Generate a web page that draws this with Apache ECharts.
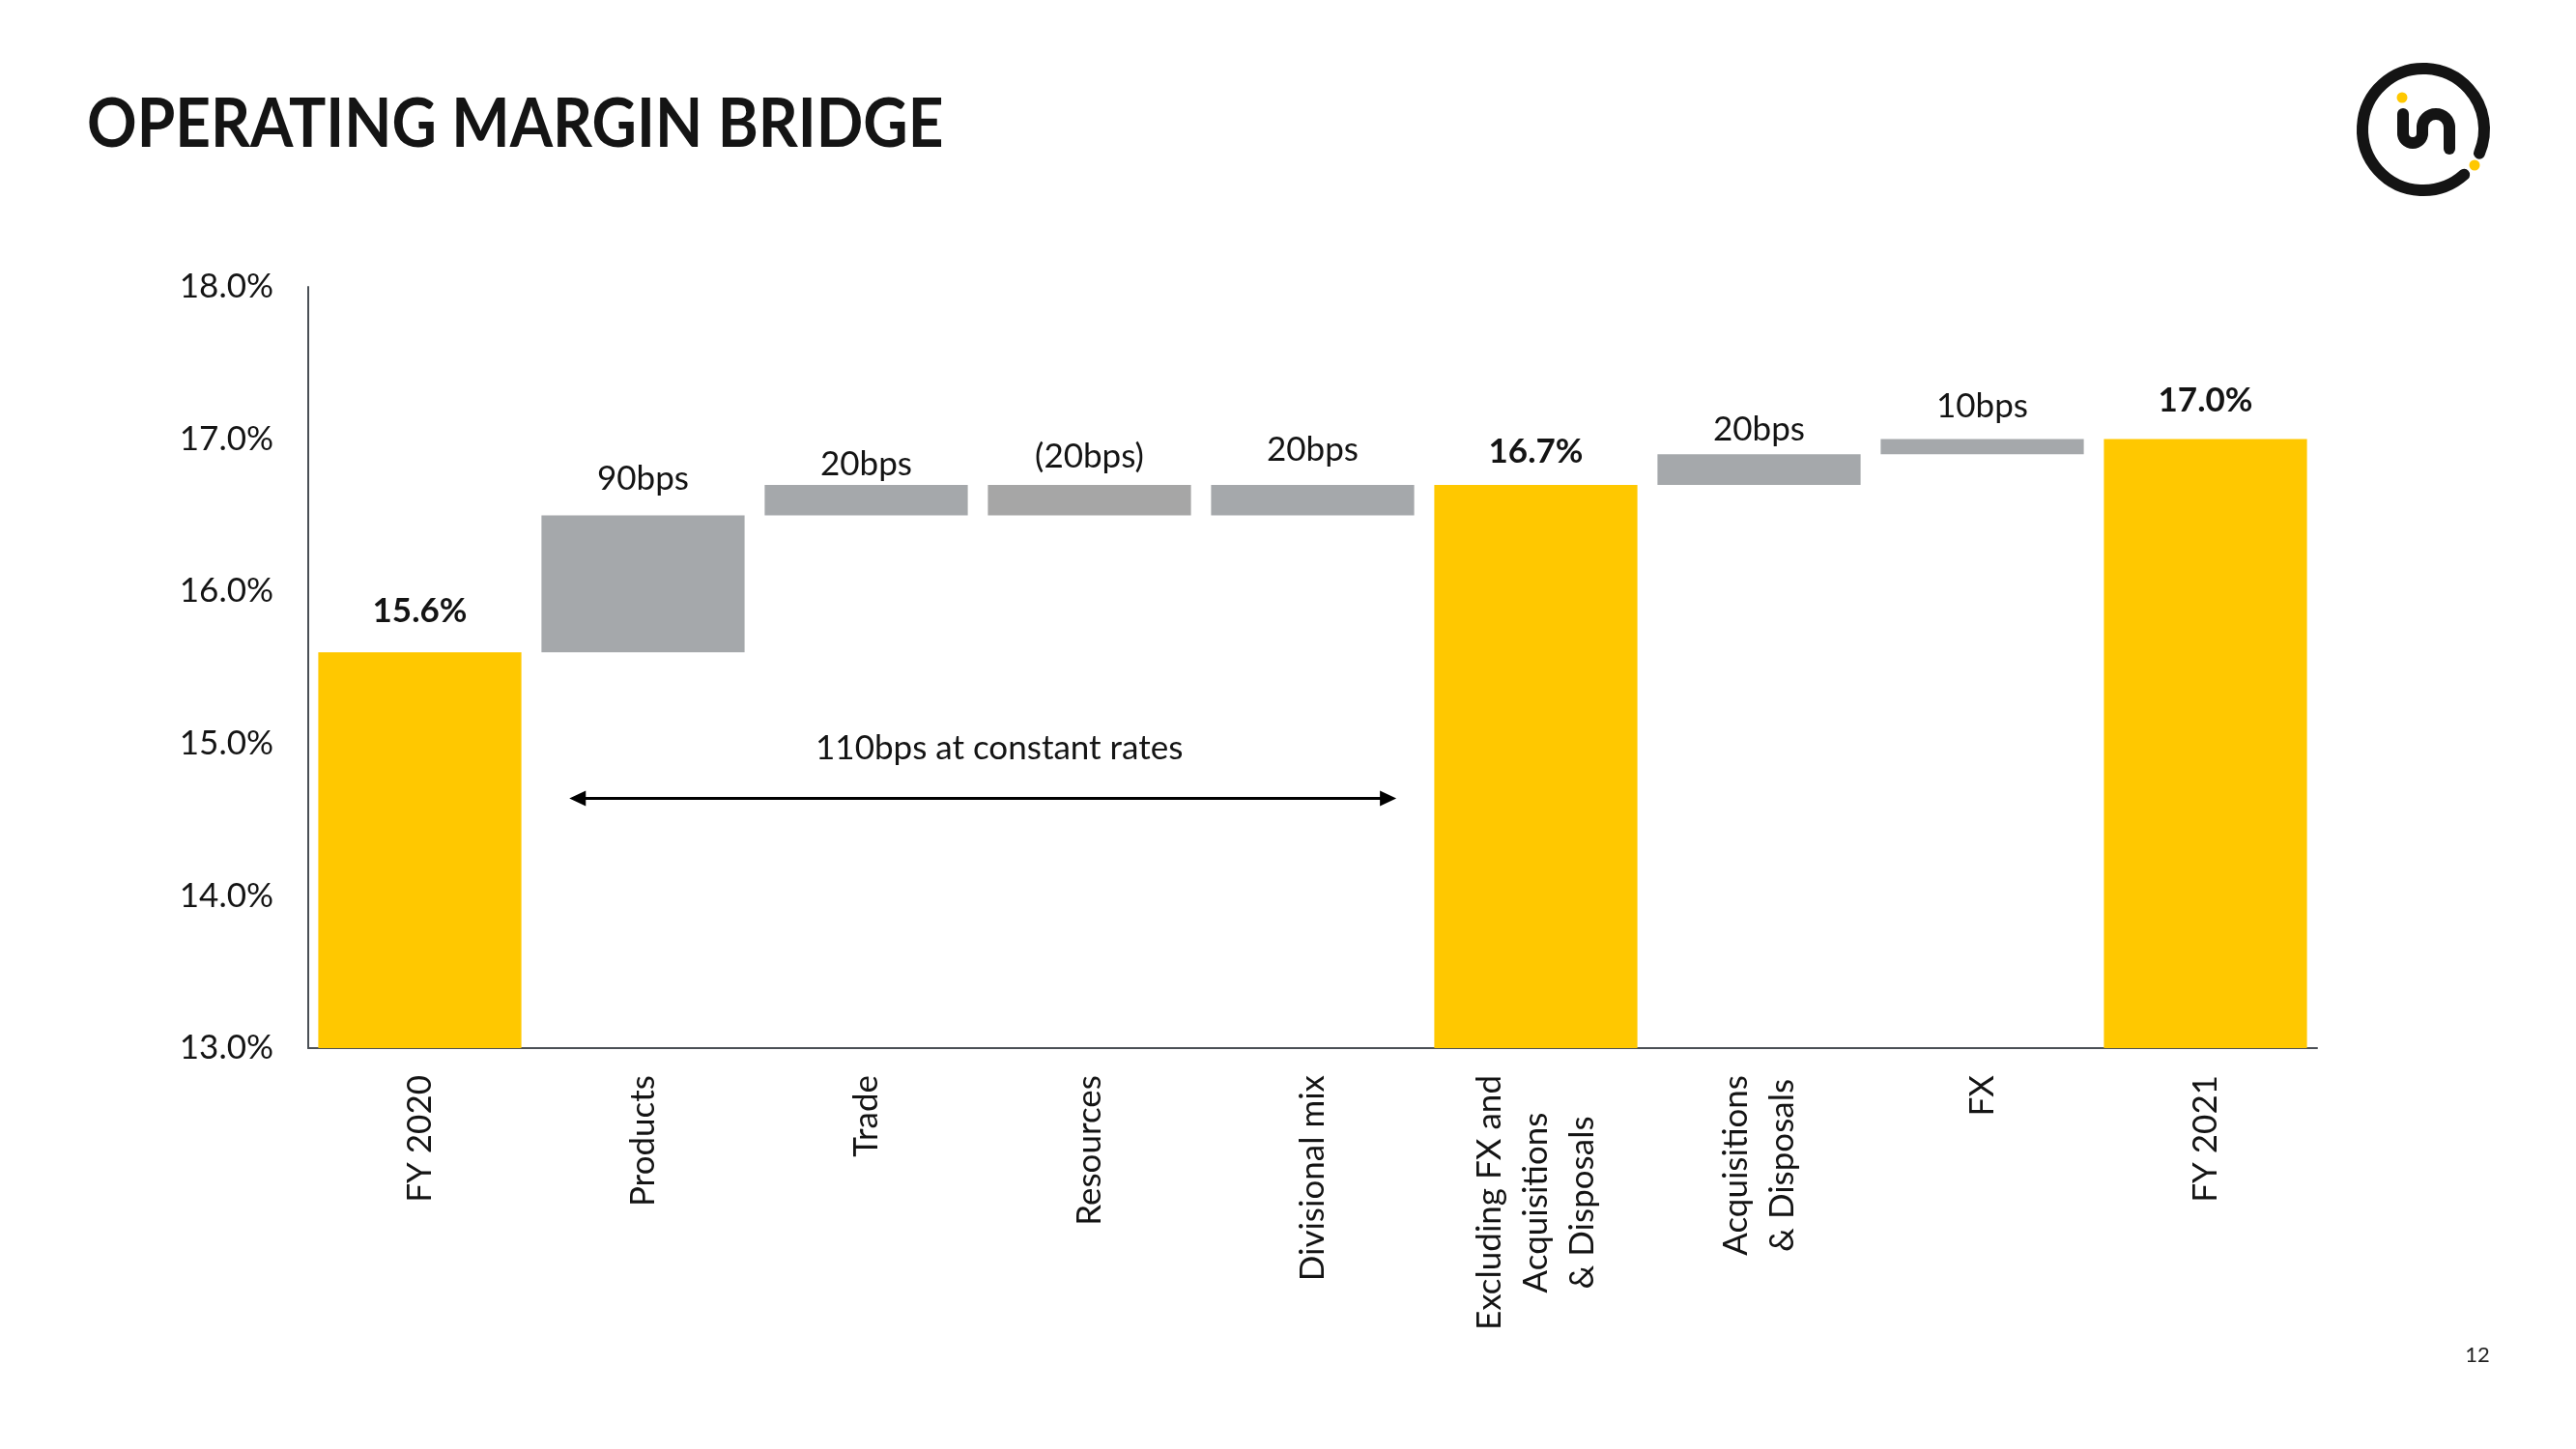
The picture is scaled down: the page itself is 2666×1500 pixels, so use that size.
<!DOCTYPE html>
<html><head><meta charset="utf-8">
<script src="https://cdn.jsdelivr.net/npm/echarts@6/dist/echarts.min.js"></script>
<style>html,body{margin:0;padding:0;background:#fff}#c{width:2666px;height:1500px}</style>
</head><body><div id="c"></div>
<script>
// ---- data ----
const titleText = 'OPERATING MARGIN BRIDGE';
const categories = ['FY 2020', 'Products', 'Trade', 'Resources', 'Divisional mix',
  'Excluding FX and\nAcquisitions\n& Disposals', 'Acquisitions\n& Disposals', 'FX', 'FY 2021'];
const barKinds = ['total', 'delta', 'delta', 'delta', 'delta', 'total', 'delta', 'delta', 'total'];
const barValues = [15.6, 0.9, 0.2, -0.2, 0.2, 16.7, 0.2, 0.1, 17.0];
const barLabels = ['15.6%', '90bps', '20bps', '(20bps)', '20bps', '16.7%', '20bps', '10bps', '17.0%'];
const yMin = 13, yMax = 18, yStep = 1;
const arrowText = '110bps at constant rates';
const arrowFrom = 'Products', arrowTo = 'Divisional mix';
const arrowLevel = 14.64, arrowTextLevel = 14.97;
const pageNumber = '12';

// ---- styles ----
const FONT = 'Lato';
const YELLOW = '#FFC800', GREY = '#A5A8AB', GREY_NEG = '#A6A6A6', AXIS = '#4a4f55', INK = '#141414';
const labelLift = [25, 20, 4, 12, 19, 17, 8, 16, 22];

// waterfall levels
const lows = [], highs = [];
let level = 0;
barValues.forEach((v, i) => {
  if (barKinds[i] === 'total') { lows.push(0); highs.push(v); level = v; }
  else if (v >= 0) { lows.push(level); highs.push(level + v); level += v; }
  else { highs.push(level); lows.push(level + v); level += v; }
});

const chart = echarts.init(document.getElementById('c'), null, { renderer: 'canvas' });
chart.setOption({
  animation: false,
  backgroundColor: '#ffffff',
  grid: { left: 319, right: 268, top: 297, bottom: 415, containLabel: false },
  xAxis: {
    type: 'category', data: categories,
    axisLine: { show: true, lineStyle: { color: AXIS, width: 2 } },
    axisTick: { show: false },
    axisLabel: {
      interval: 0, rotate: 90, margin: 28,
      formatter: (v) => v.split('\n').map(s => '{c|' + s + '}').join('\n'),
      rich: { c: { align: 'center', fontFamily: FONT, fontSize: 35, color: INK, lineHeight: 48 } }
    }
  },
  yAxis: {
    type: 'value', min: yMin, max: yMax, interval: yStep,
    axisLine: { show: true, lineStyle: { color: AXIS, width: 2 } },
    axisTick: { show: false },
    splitLine: { show: false },
    axisLabel: { formatter: (v) => v.toFixed(1) + '%', fontFamily: FONT, fontSize: 35, color: INK, margin: 36 }
  },
  series: [
    {
      type: 'bar', stack: 'w', silent: true, barCategoryGap: '9%',
      itemStyle: { color: 'rgba(0,0,0,0)' },
      data: lows
    },
    {
      type: 'bar', stack: 'w', barCategoryGap: '9%',
      data: highs.map((h, i) => ({
        value: +(h - lows[i]).toFixed(4),
        itemStyle: { color: barKinds[i] === 'total' ? YELLOW : (barValues[i] < 0 ? GREY_NEG : GREY) },
        label: {
          show: true, position: 'top', distance: labelLift[i],
          formatter: barLabels[i],
          fontFamily: FONT, fontSize: 35, color: INK,
          fontWeight: barKinds[i] === 'total' ? 'bold' : 'normal'
        }
      }))
    }
  ]
});

// annotation arrow positioned through the axes
const c1 = chart.convertToPixel({ xAxisIndex: 0 }, arrowFrom);
const c2 = chart.convertToPixel({ xAxisIndex: 0 }, arrowTo);
const band = chart.convertToPixel({ xAxisIndex: 0 }, categories[1]) - chart.convertToPixel({ xAxisIndex: 0 }, categories[0]);
const ax1 = c1 - 0.33 * band, ax2 = c2 + 0.375 * band;
const ay = chart.convertToPixel({ yAxisIndex: 0 }, arrowLevel);
const ty = chart.convertToPixel({ yAxisIndex: 0 }, arrowTextLevel);
const ah = 17, aw = 8;

const logoStroke = { stroke: '#141414', fill: null, lineWidth: 12, lineCap: 'round', lineJoin: 'round' };

chart.setOption({
  graphic: [
    { type: 'text', x: 90, y: 129, scaleX: 0.9, scaleY: 1,
      style: { text: titleText, fill: INK, font: 'bold 71px ' + FONT, fontFamily: FONT, fontSize: 71, fontWeight: 'bold',
        textAlign: 'left', align: 'left', textVerticalAlign: 'middle', verticalAlign: 'middle' } },
    { type: 'text', x: 2564, y: 1403,
      style: { text: pageNumber, fill: '#222', fontFamily: FONT, fontSize: 22,
        textAlign: 'center', align: 'center', textVerticalAlign: 'middle', verticalAlign: 'middle' } },
    // logo
    { type: 'arc', shape: { cx: 2508, cy: 134, r: 63, startAngle: 48 * Math.PI / 180, endAngle: (23 + 360) * Math.PI / 180, clockwise: true },
      style: logoStroke },
    { type: 'line', shape: { x1: 2487, y1: 118, x2: 2487, y2: 138 }, style: logoStroke },
    { type: 'arc', shape: { cx: 2497, cy: 138, r: 10, startAngle: 0, endAngle: Math.PI, clockwise: true }, style: logoStroke },
    { type: 'line', shape: { x1: 2507, y1: 138, x2: 2507, y2: 132 }, style: logoStroke },
    { type: 'arc', shape: { cx: 2521, cy: 132, r: 14, startAngle: Math.PI, endAngle: 2 * Math.PI, clockwise: true }, style: logoStroke },
    { type: 'line', shape: { x1: 2535, y1: 132, x2: 2535, y2: 154 }, style: logoStroke },
    { type: 'circle', shape: { cx: 2486, cy: 101, r: 5.5 }, style: { fill: '#FFC800' } },
    { type: 'circle', shape: { cx: 2561, cy: 171, r: 5.5 }, style: { fill: '#FFC800' } },
    // arrow
    { type: 'line', shape: { x1: ax1 + ah - 2, y1: ay, x2: ax2 - ah + 2, y2: ay }, style: { stroke: '#000', lineWidth: 3 } },
    { type: 'polygon', shape: { points: [[ax1, ay], [ax1 + ah, ay - aw], [ax1 + ah, ay + aw]] }, style: { fill: '#000' } },
    { type: 'polygon', shape: { points: [[ax2, ay], [ax2 - ah, ay - aw], [ax2 - ah, ay + aw]] }, style: { fill: '#000' } },
    { type: 'text', x: (ax1 + ax2) / 2 + 17, y: ty,
      style: { text: arrowText, fill: INK, fontFamily: FONT, fontSize: 35,
        textAlign: 'center', align: 'center', textVerticalAlign: 'middle', verticalAlign: 'middle' } }
  ]
});
</script></body></html>
